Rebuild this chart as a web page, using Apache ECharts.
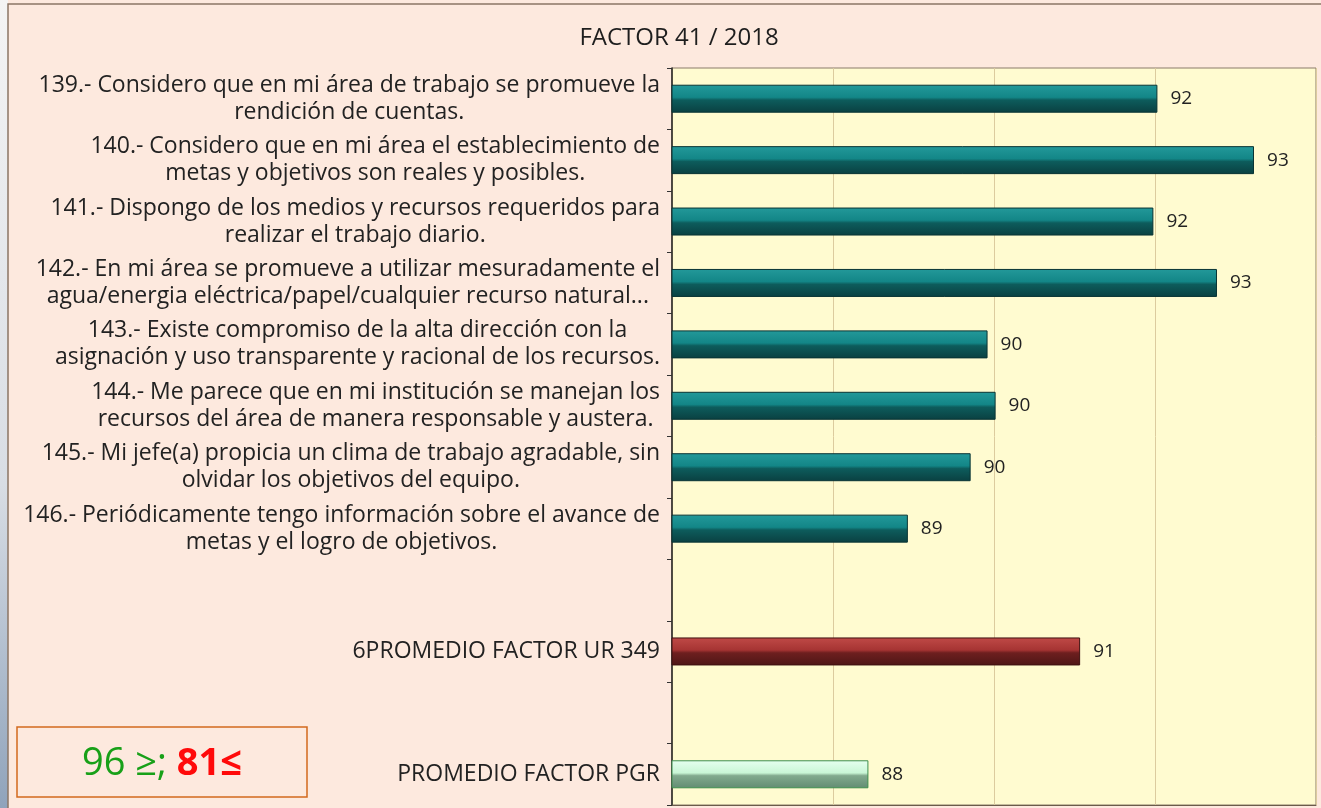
<!DOCTYPE html>
<html lang="es">
<head>
    <meta charset="UTF-8">
    <title>FACTOR 41 / 2018</title>
    <script type="text/javascript" src="https://cdn.jsdelivr.net/npm/echarts@6/dist/echarts.min.js"></script>
    <style>
        html, body { margin: 0; padding: 0; background: #fde9de; }
    </style>
</head>
<body>
<div id="chart" style="width: 1321px;height:808px;"></div>
<script>
    // preguntas del factor (en orden de arriba hacia abajo)
    var categories = [
        '139.- Considero que en mi área de trabajo se promueve la\nrendición de cuentas.',
        '140.- Considero que en mi área el establecimiento de\nmetas y objetivos son reales y posibles.',
        '141.- Dispongo de los medios y recursos requeridos para\nrealizar el trabajo diario.',
        '142.- En mi área se promueve a utilizar mesuradamente el\nagua/energia eléctrica/papel/cualquier recurso natural...',
        '143.- Existe compromiso de la alta dirección con la\nasignación y uso transparente y racional de los recursos.',
        '144.- Me parece que en mi institución se manejan los\nrecursos del área de manera responsable y austera.',
        '145.- Mi jefe(a) propicia un clima de trabajo agradable, sin\nolvidar los objetivos del equipo.',
        '146.- Periódicamente tengo información sobre el avance de\nmetas y el logro de objetivos.',
        '',
        '6PROMEDIO FACTOR UR 349',
        '',
        'PROMEDIO FACTOR PGR'
    ];
    var values = [92.03, 93.23, 91.98, 92.77, 89.92, 90.02, 89.71, 88.93, '-', 91.07, '-', 88.44];
    var axisMin = 86;
    var axisMax = 94;
    var axisStep = 2;

    // colores: pregunta / promedio UR / promedio PGR
    var tealBar = ['#23999a', '#138687', '#0d5c5c', '#0a4041', '#093434'];
    var redBar = ['#c04a47', '#a63433', '#6e1f1f', '#4e1616', '#3f1010'];
    var greenBar = ['#e6fff0', '#c9f6d6', '#82aa8e', '#628c72', '#3e8e4e'];

    function barStyle(c) {
        return {
            color: new echarts.graphic.LinearGradient(0, 0, 0, 1, [
                {offset: 0, color: c[0]},
                {offset: 0.45, color: c[1]},
                {offset: 0.55, color: c[2]},
                {offset: 1, color: c[3]}
            ]),
            borderColor: c[4],
            borderWidth: 1
        };
    }

    var data = [];
    for (var i = 0; i < values.length; i++) {
        var pal = tealBar;
        if (categories[i].indexOf('UR') >= 0) pal = redBar;
        if (categories[i].indexOf('PGR') >= 0) pal = greenBar;
        data.push({value: values[i], itemStyle: barStyle(pal)});
    }

    var FONT = 'Open Sans';
    var myChart = echarts.init(document.getElementById('chart'));
    var option = {
        backgroundColor: '#fde9de',
        animation: false,
        title: {
            text: 'FACTOR 41 / 2018',
            left: 674,
            top: 21,
            textAlign: 'center',
            textStyle: {
                fontFamily: FONT,
                fontSize: 24,
                fontWeight: 'normal',
                color: '#1e1e1e'
            }
        },
        grid: {
            left: 672,
            right: 5,
            top: 68,
            bottom: 3,
            show: true,
            backgroundColor: '#fffbd0',
            borderColor: '#8b7b6b',
            borderWidth: 1,
            outerBoundsMode: 'none'
        },
        xAxis: {
            type: 'value',
            min: axisMin,
            max: axisMax,
            interval: axisStep,
            axisLabel: {show: false},
            axisLine: {show: true, lineStyle: {color: '#6b5b4b', width: 1}},
            axisTick: {show: false},
            splitLine: {show: true, lineStyle: {color: '#dccb9e', width: 1}}
        },
        yAxis: {
            type: 'category',
            inverse: true,
            data: categories,
            axisLine: {show: true, lineStyle: {color: '#222', width: 1.5}},
            axisTick: {show: true, length: 5, lineStyle: {color: '#333'}},
            axisLabel: {
                margin: 12,
                interval: 0,
                lineHeight: 27,
                formatter: function (val) {
                    if (!val) return '';
                    return val.split('\n').map(function (l) {
                        return '{c|' + l + '}';
                    }).join('\n');
                },
                rich: {
                    c: {
                        align: 'center',
                        fontFamily: FONT,
                        fontSize: 23,
                        lineHeight: 27,
                        color: '#222'
                    }
                }
            }
        },
        series: [{
            type: 'bar',
            barWidth: 28,
            data: data,
            label: {
                show: true,
                position: 'right',
                distance: 13,
                fontFamily: FONT,
                fontSize: 19,
                color: '#222',
                formatter: function (p) {
                    return Math.round(p.value);
                }
            }
        }],
        graphic: [
            {
                type: 'rect',
                shape: {x: 0, y: 0, width: 8, height: 808},
                style: {
                    fill: new echarts.graphic.LinearGradient(0, 0, 0, 1, [
                        {offset: 0, color: '#f4f4f4'},
                        {offset: 0.6, color: '#d8dde4'},
                        {offset: 1, color: '#8fa3bb'}
                    ])
                },
                z: -1
            },
            {
                type: 'rect',
                shape: {x: 8, y: 4, width: 1320, height: 810},
                style: {fill: null, stroke: '#8a7565', lineWidth: 1.5},
                silent: true
            },
            {
                type: 'rect',
                shape: {x: 17, y: 727, width: 290, height: 70},
                style: {fill: '#fde9de', stroke: '#d2691e', lineWidth: 1.5}
            },
            {
                type: 'text',
                x: 162,
                y: 764,
                style: {
                    text: '{g|96 ≥; }{r|81≤}',
                    align: 'center',
                    verticalAlign: 'middle',
                    rich: {
                        g: {fontFamily: FONT, fontSize: 38, fill: '#18a018'},
                        r: {fontFamily: FONT, fontSize: 38, fontWeight: 'bold', fill: '#ff0a0a'}
                    }
                }
            }
        ]
    };
    myChart.setOption(option);
</script>
</body>
</html>
